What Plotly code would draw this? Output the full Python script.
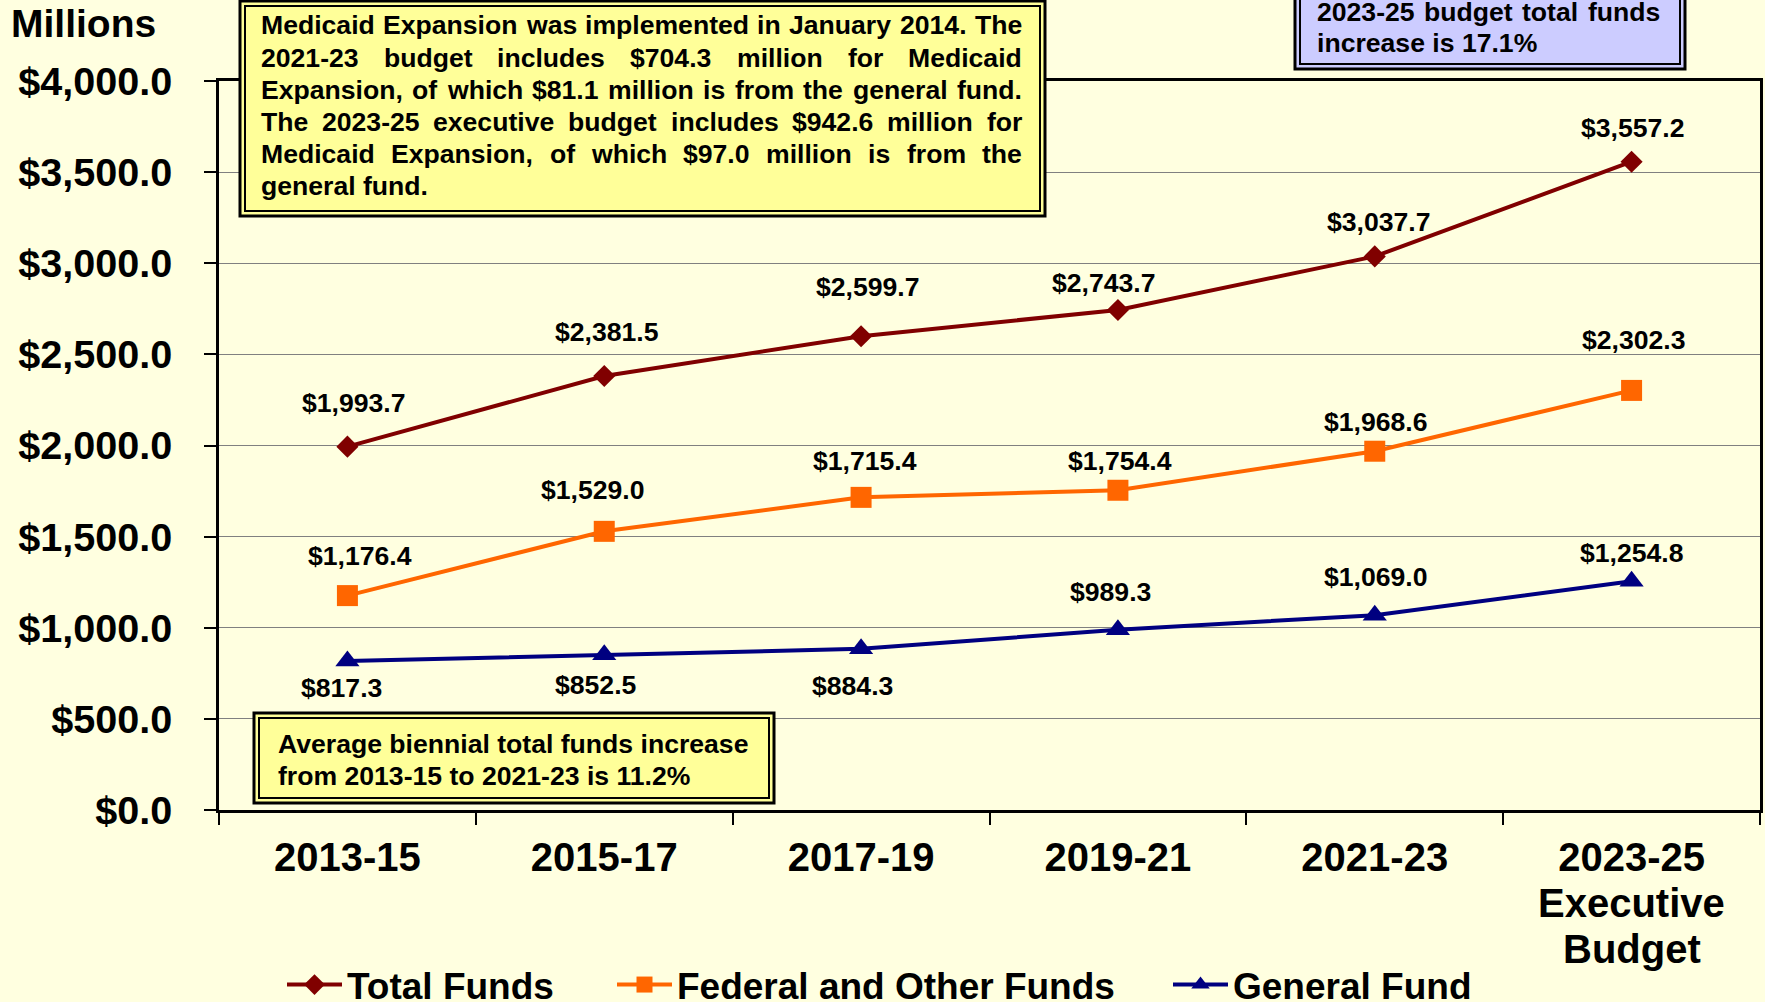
import plotly.graph_objects as go

# ---------------- data ----------------
categories = ["2013-15", "2015-17", "2017-19", "2019-21", "2021-23", "2023-25"]
extra_last_label = ["Executive", "Budget"]
total_funds = [1993.7, 2381.5, 2599.7, 2743.7, 3037.7, 3557.2]
federal_other = [1176.4, 1529.0, 1715.4, 1754.4, 1968.6, 2302.3]
general_fund = [817.3, 852.5, 884.3, 989.3, 1069.0, 1254.8]
y_tick_values = [0, 500, 1000, 1500, 2000, 2500, 3000, 3500, 4000]

medicaid_lines = [
    "Medicaid Expansion was implemented in January 2014. The",
    "2021-23 budget includes $704.3 million for Medicaid",
    "Expansion, of which $81.1 million is from the general fund.",
    "The 2023-25 executive budget includes $942.6 million for",
    "Medicaid Expansion, of which $97.0 million is from the",
    "general fund.",
]
increase_lines = ["2023-25 budget total funds", "increase is 17.1%"]
average_lines = ["Average biennial total funds increase", "from 2013-15 to 2021-23 is 11.2%"]

# ---------------- layout helpers ----------------
W, H = 1765, 1002
L, R, T, B = 219, 1760, 81, 810  # plot area in pixels

def px(x):
    return (x - L) / (R - L)

def py(y):
    return (B - y) / (B - T)

FONT = "Liberation Sans, Arial, sans-serif"
BG = "#FFFFE0"
YELLOW = "#FFFF99"
LAVENDER = "#CCCCFF"
C_TOTAL = "#800000"
C_FED = "#FF6600"
C_GEN = "#000080"

# Arial/Liberation Sans Bold advance widths (per 1000 em)
AW = {' ': 278, '$': 556, '%': 889, ',': 278, '-': 333, '.': 278,
      'A': 722, 'B': 722, 'C': 722, 'D': 722, 'E': 667, 'F': 611, 'G': 778, 'H': 722,
      'I': 278, 'J': 556, 'K': 722, 'L': 611, 'M': 833, 'N': 722, 'O': 778, 'P': 667,
      'Q': 778, 'R': 722, 'S': 667, 'T': 611, 'U': 722, 'V': 667, 'W': 944, 'X': 667,
      'Y': 667, 'Z': 611,
      'a': 556, 'b': 611, 'c': 556, 'd': 611, 'e': 556, 'f': 333, 'g': 611, 'h': 611,
      'i': 278, 'j': 278, 'k': 556, 'l': 278, 'm': 889, 'n': 611, 'o': 611, 'p': 611,
      'q': 611, 'r': 389, 's': 556, 't': 333, 'u': 611, 'v': 556, 'w': 778, 'x': 556,
      'y': 556, 'z': 500}
for d in "0123456789":
    AW[d] = 556

def text_width(s, size):
    return sum(AW.get(c, 556) for c in s) / 1000.0 * size

BOX_SIZE = 26.6
annotations = []

def add_text(text, x, y, size=BOX_SIZE, xanchor="left", yanchor="middle", xref="paper", yref="paper", **kw):
    annotations.append(dict(
        text=text, x=x, y=y, xref=xref, yref=yref, xanchor=xanchor, yanchor=yanchor,
        showarrow=False, borderpad=0, borderwidth=0,
        font=dict(family=FONT, size=size, color="black", weight="bold"), **kw))

def justified(line, xl, xr, yc, size=BOX_SIZE):
    words = line.split(" ")
    widths = [text_width(w, size) for w in words]
    gap = (xr - xl - sum(widths)) / (len(words) - 1)
    x = xl
    for i, w in enumerate(words):
        if i == len(words) - 1:
            add_text(w, px(xr), py(yc), size, xanchor="right")
        else:
            add_text(w, px(x), py(yc), size)
        x += widths[i] + gap

# ---------------- figure ----------------
fig = go.Figure()
fig.add_trace(go.Scatter(
    x=categories, y=total_funds, name="Total Funds", mode="lines+markers",
    line=dict(color=C_TOTAL, width=4), marker=dict(symbol="diamond", size=17, color=C_TOTAL),
    legend="legend"))
fig.add_trace(go.Scatter(
    x=categories, y=federal_other, name="Federal and Other Funds", mode="lines+markers",
    line=dict(color=C_FED, width=4), marker=dict(symbol="square", size=21, color=C_FED),
    legend="legend2"))
fig.add_trace(go.Scatter(
    x=categories, y=general_fund, name="General Fund", mode="lines+markers",
    line=dict(color=C_GEN, width=4), marker=dict(symbol="triangle-up", size=21, color=C_GEN),
    legend="legend3"))

# data labels (offsets in px: x shift, y shift)
label_offsets = {
    "total": [(7, 44), (3, 44), (7, 49), (-14, 27), (4, 34), (1, 34)],
    "fed": [(13, 40), (-11, 41), (4, 36), (2, 29), (1, 29), (2, 50)],
    "gen": [(-6, -27), (-8, -30), (-9, -37), (-7, 38), (1, 38), (0, 28)],
}
for key, vals in (("total", total_funds), ("fed", federal_other), ("gen", general_fund)):
    for i, v in enumerate(vals):
        dx, dy = label_offsets[key][i]
        add_text(f"${v:,.1f}", categories[i], v, 26.6, xanchor="center", yanchor="middle",
                 xref="x", yref="y", xshift=dx, yshift=dy)

# extra lines of last category label
for j, t in enumerate(extra_last_label):
    add_text(t, categories[-1], py(903 + 46 * j), 40, xanchor="center", xref="x")

# Millions label
add_text("Millions", px(11), py(23), 39)

shapes = []

def double_box(x0, y0, x1, y1, fill):
    shapes.append(dict(type="rect", xref="paper", yref="paper",
                       x0=px(x0), x1=px(x1), y0=py(y1), y1=py(y0),
                       fillcolor=fill, line=dict(color="black", width=3), layer="above"))
    shapes.append(dict(type="rect", xref="paper", yref="paper",
                       x0=px(x0 + 5), x1=px(x1 - 5), y0=py(y1 - 5), y1=py(y0 + 5),
                       fillcolor="rgba(0,0,0,0)", line=dict(color="black", width=2), layer="above"))

# Medicaid box
double_box(240, 1, 1045, 216, YELLOW)
line_y = [25, 58, 90, 122, 154, 186]
for i, ln in enumerate(medicaid_lines):
    if i < len(medicaid_lines) - 1:
        justified(ln, 261, 1022, line_y[i])
    else:
        add_text(ln, px(261), py(line_y[i]))

# increase box (top right)
double_box(1295, -40, 1685, 69, LAVENDER)
justified(increase_lines[0], 1317, 1660, 12)
add_text(increase_lines[1], px(1317), py(43))

# average box (bottom left)
double_box(254, 713, 774, 803, YELLOW)
add_text(average_lines[0], px(278), py(744))
add_text(average_lines[1], px(278), py(776))

legend_common = dict(orientation="h", yanchor="middle", xanchor="left", bgcolor="rgba(0,0,0,0)",
                     font=dict(family=FONT, size=37, color="black", weight="bold"),
                     itemwidth=55, borderwidth=0)

fig.update_layout(
    width=W, height=H,
    template="none",
    paper_bgcolor=BG, plot_bgcolor=BG,
    margin=dict(l=L, r=W - R, t=T, b=H - B, autoexpand=False),
    showlegend=True,
    legend=dict(x=px(282), y=py(985), **legend_common),
    legend2=dict(x=px(612), y=py(985), **legend_common),
    legend3=dict(x=px(1168), y=py(985), **legend_common),
    xaxis=dict(
        type="category", tickmode="array", tickvals=categories, ticktext=categories,
        tickson="boundaries", ticks="outside", ticklen=12, tickwidth=1.5, tickcolor="black",
        showline=True, linecolor="black", linewidth=2.5, mirror=True, showgrid=False,
        zeroline=False, automargin=False, ticklabelstandoff=10,
        tickfont=dict(family=FONT, size=40, color="black", weight="bold"),
        range=[-0.5, 5.5]),
    yaxis=dict(
        range=[0, 4000], tickmode="array", tickvals=y_tick_values, tickformat="$,.1f",
        ticks="outside", ticklen=12, tickwidth=1.5, tickcolor="black",
        showline=True, linecolor="black", linewidth=2.5, mirror=True,
        showgrid=True, gridcolor="#808080", gridwidth=1, zeroline=False, automargin=False,
        ticklabelstandoff=24,
        tickfont=dict(family=FONT, size=39.6, color="black", weight="bold")),
    annotations=annotations,
    shapes=shapes,
)

fig.write_html(
    "out.html",
    config={"displayModeBar": False},
    post_script="document.body.style.margin='0';document.body.style.background='%s';" % BG,
)
